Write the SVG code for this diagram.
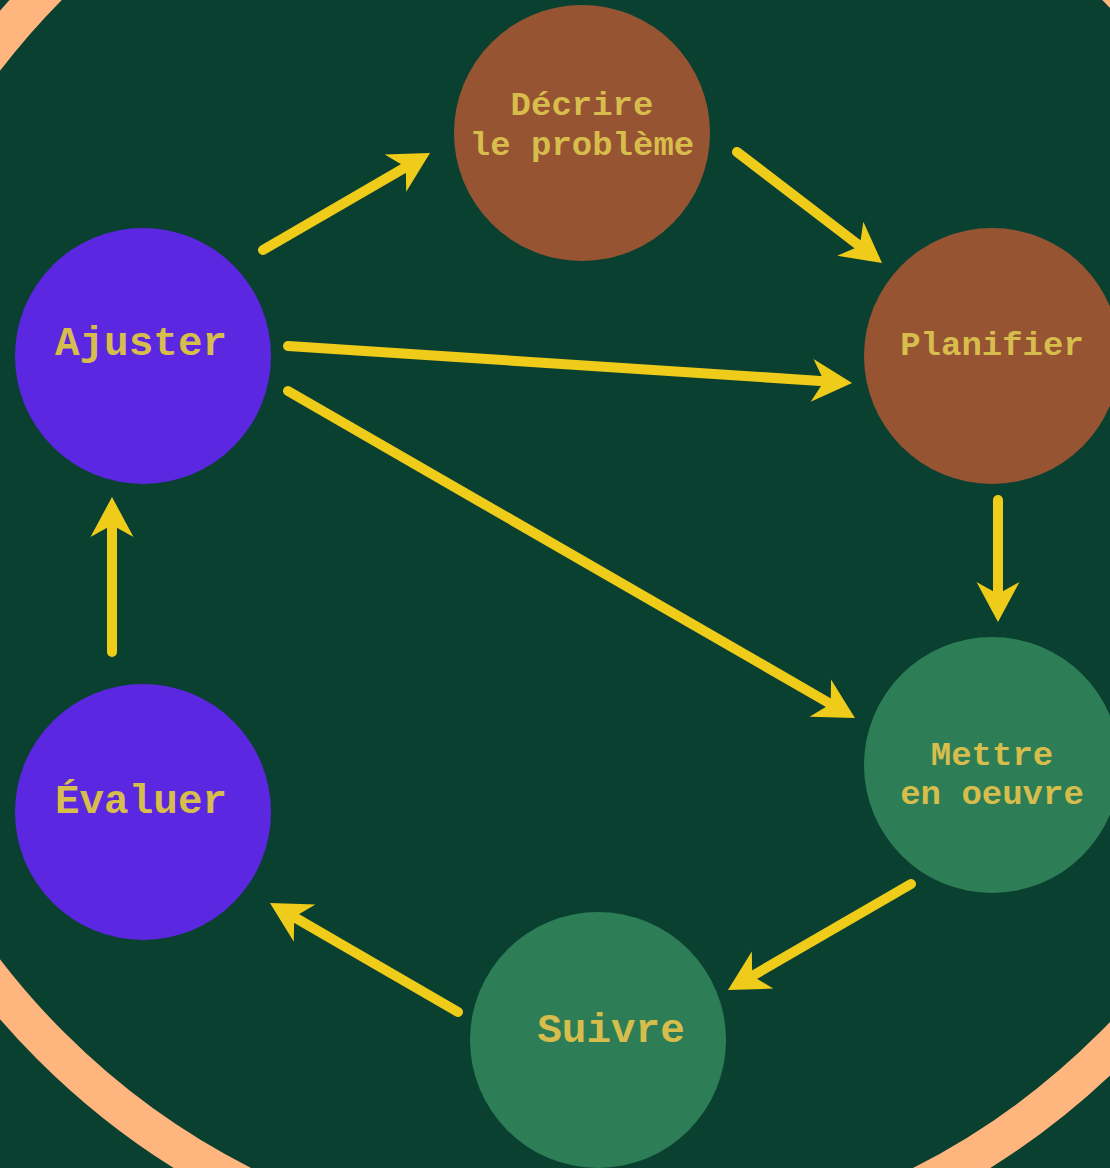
<svg xmlns="http://www.w3.org/2000/svg" width="1110" height="1168" viewBox="0 0 1110 1168">
<style>
.bg{fill:#0a4030}
.ring{fill:none;stroke:#ffb57e;stroke-width:38}
.brown{fill:#965433}
.green{fill:#2d7d56}
.purple{fill:#5b27e0}
.lbl{font-family:"Liberation Mono","DejaVu Sans Mono",monospace;font-weight:bold;fill:#d7bd4c;text-anchor:middle}
.big{font-size:41px}
.small{font-size:34px}
.edge{fill:none;stroke:#f0cc1a;stroke-width:10;stroke-linecap:round}
</style>
<defs>
<marker id="ah" markerUnits="userSpaceOnUse" viewBox="-14 -24 44 48" refX="0" refY="0" markerWidth="44" markerHeight="48" orient="auto">
<path d="M28,0 L-12,-21.5 L0,0 L-12,21.5 Z" fill="#f0cc1a"/>
</marker>
</defs>
<rect class="bg" x="0" y="0" width="1110" height="1168"/>
<circle class="ring" cx="582" cy="515" r="751"/>
<g id="connectors">
<line class="edge" x1="263" y1="250" x2="405.8" y2="167.1" marker-end="url(#ah)"/>
<line class="edge" x1="737" y1="152" x2="859.8" y2="246" marker-end="url(#ah)"/>
<line class="edge" x1="288" y1="346" x2="824.1" y2="381.2" marker-end="url(#ah)"/>
<line class="edge" x1="288" y1="391" x2="830.7" y2="704" marker-end="url(#ah)"/>
<line class="edge" x1="998" y1="500" x2="998" y2="594" marker-end="url(#ah)"/>
<line class="edge" x1="911" y1="884" x2="752.2" y2="976" marker-end="url(#ah)"/>
<line class="edge" x1="458" y1="1012" x2="294.2" y2="917.1" marker-end="url(#ah)"/>
<line class="edge" x1="112" y1="652" x2="112" y2="525" marker-end="url(#ah)"/>
</g>
<g id="decrire">
<circle class="brown" cx="582" cy="133" r="128"/>
<text class="lbl small" x="582" y="115">Décrire</text>
<text class="lbl small" x="582" y="155">le problème</text>
</g>
<g id="planifier">
<circle class="brown" cx="992" cy="356" r="128"/>
<text class="lbl small" x="992" y="355">Planifier</text>
</g>
<g id="mettre">
<circle class="green" cx="992" cy="765" r="128"/>
<text class="lbl small" x="992" y="765">Mettre</text>
<text class="lbl small" x="992" y="804">en oeuvre</text>
</g>
<g id="suivre">
<circle class="green" cx="598" cy="1040" r="128"/>
<text class="lbl big" x="611" y="1042">Suivre</text>
</g>
<g id="evaluer">
<circle class="purple" cx="143" cy="812" r="128"/>
<text class="lbl big" x="141" y="813">Évaluer</text>
</g>
<g id="ajuster">
<circle class="purple" cx="143" cy="356" r="128"/>
<text class="lbl big" x="141" y="355">Ajuster</text>
</g>
</svg>
